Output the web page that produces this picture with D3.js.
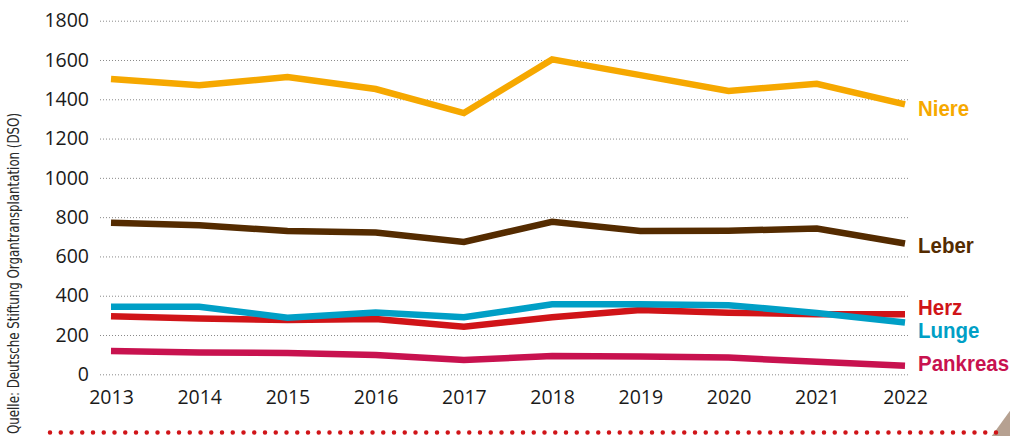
<!DOCTYPE html>
<html>
<head>
<meta charset="utf-8">
<script src="https://cdn.jsdelivr.net/npm/d3@7"></script>
<style>
  html, body { margin: 0; padding: 0; background: #fff; overflow: hidden; }
</style>
</head>
<body>
<script>
// Organ transplants in Germany per year (DSO)
const years = ["2013", "2014", "2015", "2016", "2017", "2018", "2019", "2020", "2021", "2022"];
const yTicks = [0, 200, 400, 600, 800, 1000, 1200, 1400, 1600, 1800];

const niere    = [1503, 1471, 1513, 1452, 1330, 1603, 1523, 1442, 1479, 1374];
const leber    = [771, 759, 729, 722, 674, 776, 729, 731, 742, 666];
const herz     = [295, 284, 276, 281, 242, 290, 327, 313, 306, 306];
const lunge    = [344, 344, 288, 315, 290, 356, 356, 352, 312, 264];
const pankreas = [118, 111, 108, 98, 73, 93, 90, 85, 64, 44];

const seriesNames = ["Niere", "Leber", "Herz", "Lunge", "Pankreas"];
const seriesValues = [niere, leber, herz, lunge, pankreas];

const colors = {
    "Niere": "#f6a800",
    "Leber": "#542b00",
    "Herz": "#d01418",
    "Lunge": "#009fc6",
    "Pankreas": "#c8124f"
};
// vertical shift of the end labels against the last point
const labelShift = { "Niere": 12, "Leber": 9.5, "Herz": 1, "Lunge": 15.5, "Pankreas": 5.5 };

const width = 1010, height = 436;

const svg = d3.select("body").append("svg")
    .attr("width", width)
    .attr("height", height);

const x = d3.scalePoint()
    .domain(years)
    .range([111, 905]);

const y = d3.scaleLinear()
    .domain([0, 1800])
    .range([374.3, 20.7]);

// grid + y labels
const yAxis = svg.append("g")
    .attr("transform", "translate(100,0)")
    .call(d3.axisLeft(y).tickValues(yTicks).tickSizeInner(-810).tickSizeOuter(0).tickPadding(11).tickFormat(d3.format("d")));
yAxis.select(".domain").remove();
yAxis.selectAll(".tick line")
    .attr("stroke", "#8a8a8a")
    .attr("stroke-width", 1)
    .attr("stroke-dasharray", "1,2");
yAxis.selectAll(".tick text")
    .attr("fill", "#1a1a1a")
    .style("font-family", "'Open Sans', sans-serif")
    .style("font-size", "19.5px");

// x labels
const xAxis = svg.append("g")
    .attr("transform", "translate(0,374)")
    .call(d3.axisBottom(x).tickSize(0));
xAxis.select(".domain").remove();
xAxis.selectAll(".tick text")
    .attr("dy", null)
    .attr("y", 30)
    .attr("fill", "#1a1a1a")
    .style("font-family", "'Open Sans', sans-serif")
    .style("font-size", "19.5px");

// lines
const line = d3.line()
    .x((d, i) => x(years[i]))
    .y(d => y(d));

seriesNames.forEach((name, k) => {
    const vals = seriesValues[k];
    svg.append("path")
        .datum(vals)
        .attr("d", line)
        .attr("fill", "none")
        .attr("stroke", colors[name])
        .attr("stroke-width", 6.5)
        .attr("stroke-linejoin", "miter")
        .attr("stroke-linecap", "butt");

    // labels are a bit condensed in the original
    svg.append("text")
        .attr("transform", `translate(918,${y(vals[vals.length - 1]) + labelShift[name]}) scale(0.91,1)`)
        .attr("fill", colors[name])
        .style("font-family", "'Liberation Sans', Arial, sans-serif")
        .style("font-weight", "bold")
        .style("font-size", "22.5px")
        .text(name);
});

// source note, rotated
svg.append("text")
    .attr("transform", "translate(19,434) rotate(-90)")
    .attr("text-anchor", "start")
    .attr("textLength", 321)
    .attr("lengthAdjust", "spacingAndGlyphs")
    .attr("fill", "#2a2a2a")
    .style("font-family", "'Liberation Sans Narrow', 'DejaVu Sans Condensed', sans-serif")
    .style("font-size", "15px")
    .text("Quelle: Deutsche Stiftung Organtransplantation (DSO)");

// corner decoration
svg.append("polygon")
    .attr("points", "1012,408 991,437 1012,437")
    .attr("fill", "#b6a191");

// dotted red rule at the bottom
svg.append("line")
    .attr("x1", 50).attr("x2", 1002)
    .attr("y1", 432.5).attr("y2", 432.5)
    .attr("stroke", "#d01418")
    .attr("stroke-width", 4.5)
    .attr("stroke-linecap", "round")
    .attr("stroke-dasharray", "0,10.75");
</script>
</body>
</html>
